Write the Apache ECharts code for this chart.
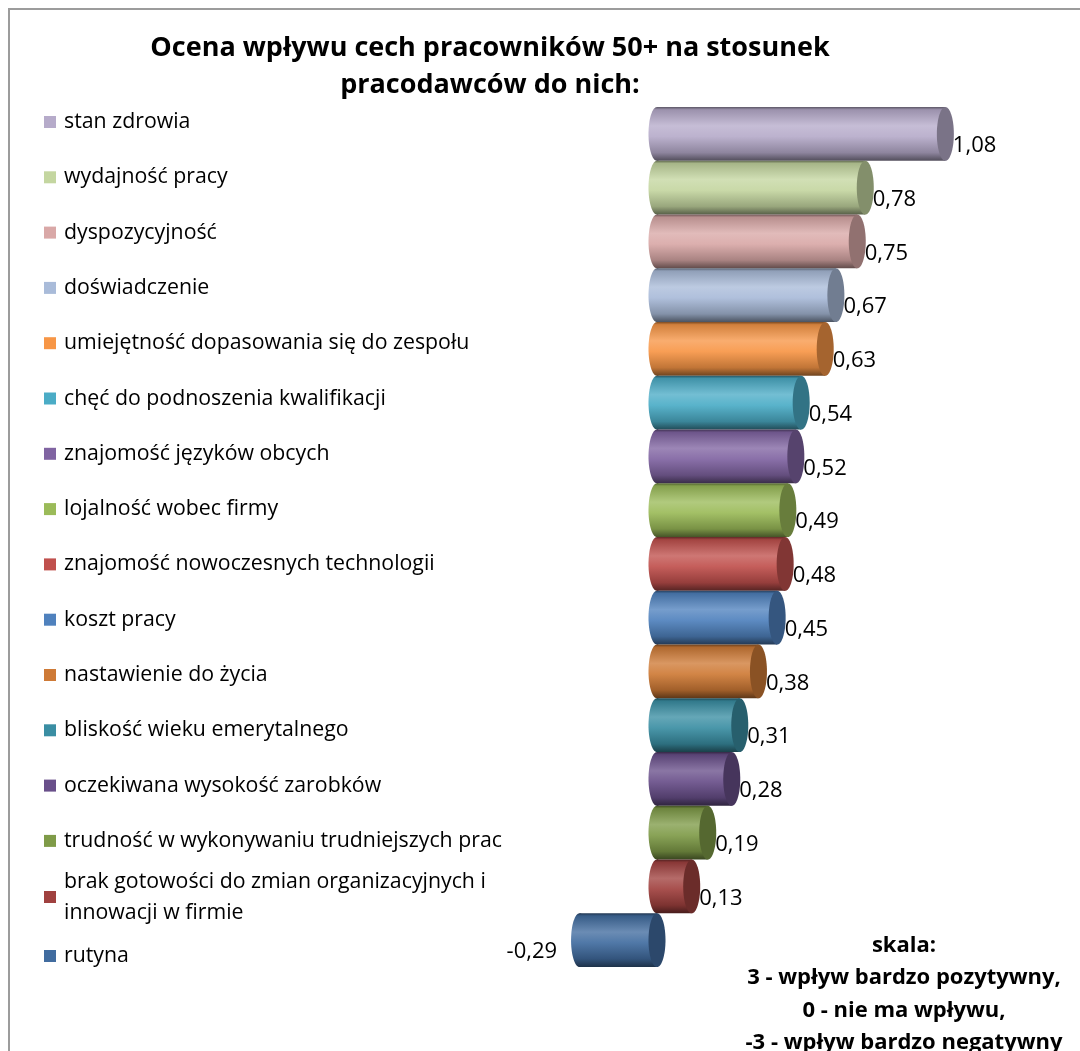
<!DOCTYPE html>
<html>
<head>
<meta charset="utf-8">
<script src="https://cdn.jsdelivr.net/npm/echarts@6/dist/echarts.min.js"></script>
<style>
  html, body { margin: 0; padding: 0; background: #ffffff; }
  #chart { width: 1080px; height: 1051px; }
</style>
</head>
<body>
<div id="chart"></div>
<script>
// Categories, values and colours of the chart
const categories = [
  'stan zdrowia',
  'wydajność pracy',
  'dyspozycyjność',
  'doświadczenie',
  'umiejętność dopasowania się do zespołu',
  'chęć do podnoszenia kwalifikacji',
  'znajomość języków obcych',
  'lojalność wobec firmy',
  'znajomość nowoczesnych technologii',
  'koszt pracy',
  'nastawienie do życia',
  'bliskość wieku emerytalnego',
  'oczekiwana wysokość zarobków',
  'trudność w wykonywaniu trudniejszych prac',
  'brak gotowości do zmian organizacyjnych i innowacji w firmie',
  'rutyna'
];
const values = [1.08, 0.78, 0.75, 0.67, 0.63, 0.54, 0.52, 0.49, 0.48, 0.45, 0.38, 0.31, 0.28, 0.19, 0.13, -0.29];
const colors = [
  '#B6ABCA', '#C4D6A0', '#D9A8A7', '#A9BBD9', '#F79646', '#4BACC6', '#8064A2', '#9BBB59',
  '#C0504D', '#4F81BD', '#CE7A36', '#3A8EA3', '#694F8A', '#7F9B48', '#A0413F', '#416C9F'
];
const titleLines = ['Ocena wpływu cech pracowników 50+ na stosunek', 'pracodawców do nich:'];
const scaleNote = ['skala:', '3 - wpływ bardzo pozytywny,', '0 - nie ma wpływu,', '-3 - wpływ bardzo negatywny'];

const FONT = '"Open Sans", Lato, "Noto Sans", sans-serif';
const CAP_RX = 8.5;

// mix a hex colour toward black (t < 0) or white (t > 0)
function shade(hex, t) {
  const n = parseInt(hex.slice(1), 16);
  const ch = [n >> 16, (n >> 8) & 255, n & 255].map(c =>
    Math.round(t < 0 ? c * (1 + t) : c + (255 - c) * t));
  return 'rgb(' + ch.join(',') + ')';
}

// horizontal cylinder: rounded back end, shaded body, darker end cap, value label
function renderCylinder(params, api) {
  const v = api.value(0);
  const idx = api.value(1);
  const a = api.coord([0, idx]);
  const b = api.coord([v, idx]);
  const h = api.size([0, 1])[1];
  const cy = a[1];
  const xl = Math.min(a[0], b[0]);
  const xr = Math.max(a[0], b[0]);
  const c = colors[params.seriesIndex];
  const body = new echarts.graphic.LinearGradient(0, 0, 0, 1, [
    { offset: 0, color: shade(c, -0.5) },
    { offset: 0.05, color: shade(c, -0.15) },
    { offset: 0.35, color: shade(c, 0.22) },
    { offset: 0.55, color: shade(c, 0.08) },
    { offset: 0.85, color: shade(c, -0.22) },
    { offset: 1, color: shade(c, -0.55) }
  ]);
  const label = v.toFixed(2).replace('.', ',');
  return {
    type: 'group',
    children: [
      { type: 'ellipse', shape: { cx: xl, cy: cy, rx: CAP_RX, ry: h / 2 }, style: { fill: body } },
      { type: 'rect', shape: { x: xl, y: cy - h / 2, width: xr - xl, height: h }, style: { fill: body } },
      { type: 'ellipse', shape: { cx: xr, cy: cy, rx: CAP_RX, ry: h / 2 }, style: { fill: shade(c, -0.33) } },
      {
        type: 'text',
        x: v >= 0 ? xr + CAP_RX - 1 : xl - CAP_RX - 14,
        y: cy + 12,
        style: {
          text: label,
          align: v >= 0 ? 'left' : 'right',
          verticalAlign: 'middle',
          fontFamily: FONT,
          fontSize: 22,
          fill: '#000000'
        }
      }
    ]
  };
}

const series = categories.map((name, i) => ({
  type: 'custom',
  name: name,
  renderItem: renderCylinder,
  itemStyle: { color: colors[i] },
  encode: { x: 0, y: 1 },
  data: [[values[i], i]]
}));

const legendText = { fontFamily: FONT, fontSize: 21.3, color: '#000000', lineHeight: 28, padding: [0, 0, 0, 3] };
const legendBase = {
  orient: 'vertical', left: 44, padding: 0, icon: 'rect',
  itemWidth: 12, itemHeight: 12, selectedMode: false
};

const chart = echarts.init(document.getElementById('chart'), null, { renderer: 'canvas' });
chart.setOption({
  animation: false,
  backgroundColor: '#ffffff',
  grid: { left: 550.2, right: 102.6, top: 107, bottom: 84 },
  xAxis: { type: 'value', min: -0.4, max: 1.2, show: false },
  yAxis: { type: 'category', data: categories, inverse: true, show: false },
  legend: [
    Object.assign({}, legendBase, {
      top: 108, itemGap: 27.3,
      data: categories.slice(0, 14),
      textStyle: legendText
    }),
    Object.assign({}, legendBase, {
      top: 850.5,
      data: [categories[14]],
      textStyle: Object.assign({}, legendText, {
        lineHeight: 31, width: 448, overflow: 'break', padding: [31, 0, 0, 3]
      })
    }),
    Object.assign({}, legendBase, {
      top: 942,
      data: [categories[15]],
      textStyle: legendText
    })
  ],
  graphic: [
    {
      type: 'rect', silent: true, z: -10,
      shape: { x: 9, y: 9, width: 1200, height: 1200 },
      style: { fill: 'none', stroke: '#9c9c9c', lineWidth: 2 }
    },
    {
      type: 'text', x: 490, y: 30,
      style: {
        text: titleLines.join('\n'), align: 'center', verticalAlign: 'top',
        fontFamily: FONT, fontSize: 27, fontWeight: 'bold', lineHeight: 37, fill: '#000000'
      }
    },
    {
      type: 'text', x: 904, y: 929,
      style: {
        text: scaleNote.join('\n'), align: 'center', verticalAlign: 'top',
        fontFamily: FONT, fontSize: 22, fontWeight: 'bold', lineHeight: 32.5, fill: '#000000'
      }
    }
  ],
  series: series
});
</script>
</body>
</html>
